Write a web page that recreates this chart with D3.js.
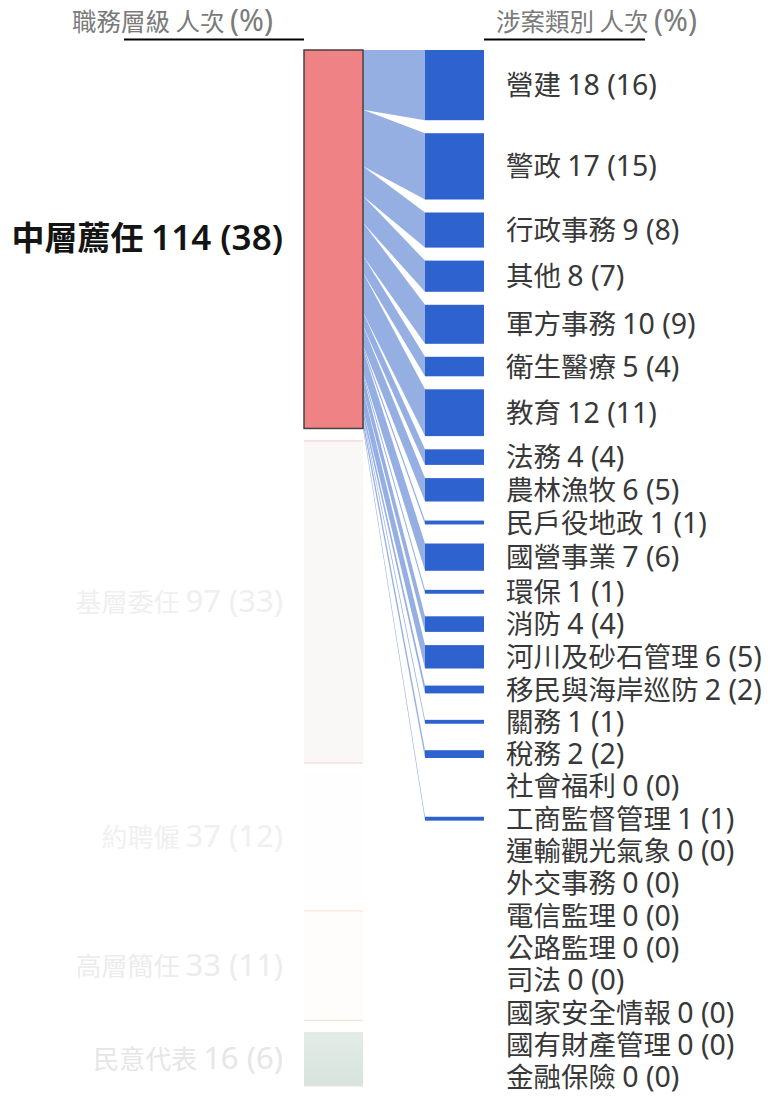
<!DOCTYPE html>
<html><head><meta charset="utf-8">
<script src="https://cdn.jsdelivr.net/npm/d3@7"></script>
<style>html,body{margin:0;padding:0;background:#fff;}svg{display:block;}</style>
</head><body>
<svg id="chart" width="776" height="1106"></svg>
<script>
// ---- data ----
const tiers = ["中層薦任","基層委任","約聘僱","高層簡任","民意代表"];
const tierCounts = [114, 97, 37, 33, 16];
const tierPct = [38, 33, 12, 11, 6];
const selectedTier = "中層薦任";

const cases = ["營建","警政","行政事務","其他","軍方事務","衛生醫療","教育","法務","農林漁牧","民戶役地政","國營事業","環保","消防","河川及砂石管理","移民與海岸巡防","關務","稅務","社會福利","工商監督管理","運輸觀光氣象","外交事務","電信監理","公路監理","司法","國家安全情報","國有財產管理","金融保險"];
const caseCounts = [18,17,9,8,10,5,12,4,6,1,7,1,4,6,2,1,2,0,1,0,0,0,0,0,0,0,0];
const casePct =    [16,15,8,7,9,4,11,4,5,1,6,1,4,5,2,1,2,0,1,0,0,0,0,0,0,0,0];

const headers = ["職務層級 人次 (%)", "涉案類別 人次 (%)"];

const tierFill = ["#ef8284","#f9f8f6","#fefefe","#fefdfb","#dde7e1"];
const tierEdge = ["#4a3f40","#f3d6d6","#fdfdfd","#fae6d2","#dde7e1"];
const tierText = ["#141414","#efefef","#f0f0f0","#ececec","#e6e6e6"];

// ---- layout ----
const svg = d3.select("#chart");
const colTop = 50, colBottom = 1086;
const colH = colBottom - colTop;
const leftX = 304, nodeW = 59, rightX = 425;
const gapL = 12.5;

const yL = d3.scaleLinear().domain([0, d3.sum(tierCounts)]).range([0, colH - gapL*(tiers.length-1)]);
let acc = colTop;
const leftNodes = tiers.map((t,i)=>{
  const h = yL(tierCounts[i]); const n = {name:t, i, y0:acc, y1:acc+h}; acc += h + gapL; return n;
});

// right column: proportional bars, min slot, label collision spacing
const gapR = 13, minSlot = 16, labelSpacing = 32.3;
const yR = d3.scaleLinear().domain([0, 1]).range([0, 3.9]);
acc = colTop;
let prevLabel = -Infinity;
const rightNodes = cases.map((c,i)=>{
  const h = yR(caseCounts[i]);
  const slot = Math.max(h, minSlot);
  let cy = acc + slot/2;
  cy = Math.max(cy, prevLabel + labelSpacing);
  const n = {name:c, i, y0: cy - h/2, y1: cy + h/2, cy};
  prevLabel = cy;
  acc = cy + slot/2 + gapR;
  return n;
});

// links (selected tier -> cases)
const sel = leftNodes[tiers.indexOf(selectedTier)];
let ly = sel.y0;
const links = [];
rightNodes.forEach((n,i)=>{
  const v = caseCounts[i];
  if (v <= 0) return;
  const lh = yL(v);
  links.push({ly0: ly, ly1: ly+lh, ry0: n.y0, ry1: n.y1});
  ly += lh;
});

// mixed-script text helper
const isCJK = ch => /[\u3000-\u9fff\uf900-\ufaff]/.test(ch);
function runs(s){
  const out=[]; let cur="", cj=null;
  for (const ch of s){
    const c = ch===" " ? (cj===null?false:cj) : isCJK(ch);
    if (cj===null || c===cj || ch===" "){ cur+=ch; cj = (cj===null? c : cj); }
    else { out.push({t:cur,cjk:cj}); cur=ch; cj=c; }
  }
  if (cur) out.push({t:cur,cjk:cj});
  return out;
}
function mixedText(g, s, x, y, anchor, cjkSize, latSize, color, weight){
  const t = g.append("text").attr("x",x).attr("y",y).attr("text-anchor",anchor)
    .attr("fill",color).attr("font-weight",weight||"normal").style("white-space","pre");
  runs(s).forEach(r=>{
    t.append("tspan").text(r.t)
      .attr("font-family", r.cjk ? "'Noto Sans CJK TC','Noto Sans CJK SC',sans-serif" : "'Noto Sans','Noto Sans CJK TC',sans-serif")
      .attr("font-size", r.cjk ? cjkSize : latSize);
  });
  return t;
}

// headers
const hg = svg.append("g");
mixedText(hg, headers[0], 273, 31, "end", 24.5, 30, "#7a7a7a");
mixedText(hg, headers[1], 496, 31, "start", 24.5, 30, "#7a7a7a");
hg.append("line").attr("x1",124).attr("x2",leftX).attr("y1",39.5).attr("y2",39.5).attr("stroke","#000").attr("stroke-width",2);
hg.append("line").attr("x1",rightX+nodeW).attr("x2",645).attr("y1",39.5).attr("y2",39.5).attr("stroke","#000").attr("stroke-width",2);

// links
svg.append("g").selectAll("path").data(links).join("path")
  .attr("d", d => `M${leftX+nodeW},${d.ly0}L${rightX},${d.ry0}L${rightX},${d.ry1}L${leftX+nodeW},${d.ly1}Z`)
  .attr("fill","#95afe3");

// left nodes
const defs = svg.append("defs");
const grad = defs.append("linearGradient").attr("id","gMin").attr("x1",0).attr("x2",0).attr("y1",0).attr("y2",1);
grad.append("stop").attr("offset","0%").attr("stop-color","#e3ece7");
grad.append("stop").attr("offset","100%").attr("stop-color","#d8e3dd");

const lg = svg.append("g");
leftNodes.forEach(n=>{
  if (n.name === selectedTier){
    lg.append("rect").attr("x",leftX).attr("y",n.y0).attr("width",nodeW).attr("height",n.y1-n.y0)
      .attr("fill",tierFill[n.i]).attr("stroke",tierEdge[n.i]).attr("stroke-width",1.5);
  } else {
    lg.append("rect").attr("x",leftX).attr("y",n.y0).attr("width",nodeW).attr("height",n.y1-n.y0)
      .attr("fill", n.i===4 ? "url(#gMin)" : tierFill[n.i]);
    [n.y0, n.y1].forEach(yy=>lg.append("line").attr("x1",leftX).attr("x2",leftX+nodeW)
      .attr("y1",yy).attr("y2",yy).attr("stroke",tierEdge[n.i]).attr("stroke-width",1.2));
  }
  const selected = n.name === selectedTier;
  mixedText(lg, `${n.name} ${tierCounts[n.i]} (${tierPct[n.i]})`, 283, (n.y0+n.y1)/2 + (selected?11:10), "end",
    selected?33:26, selected?35:31, tierText[n.i], selected?"600":"normal");
});

// right nodes
const rg = svg.append("g");
rg.selectAll("rect").data(rightNodes.filter(n=>caseCounts[n.i]>0)).join("rect")
  .attr("x",rightX).attr("y",d=>d.y0).attr("width",nodeW).attr("height",d=>d.y1-d.y0)
  .attr("fill","#2e63cf");
rightNodes.forEach(n=>{
  mixedText(rg, `${n.name} ${caseCounts[n.i]} (${casePct[n.i]})`, 506, n.cy + 10, "start", 27.5, 28.5, "#383838");
});
</script>
</body></html>
